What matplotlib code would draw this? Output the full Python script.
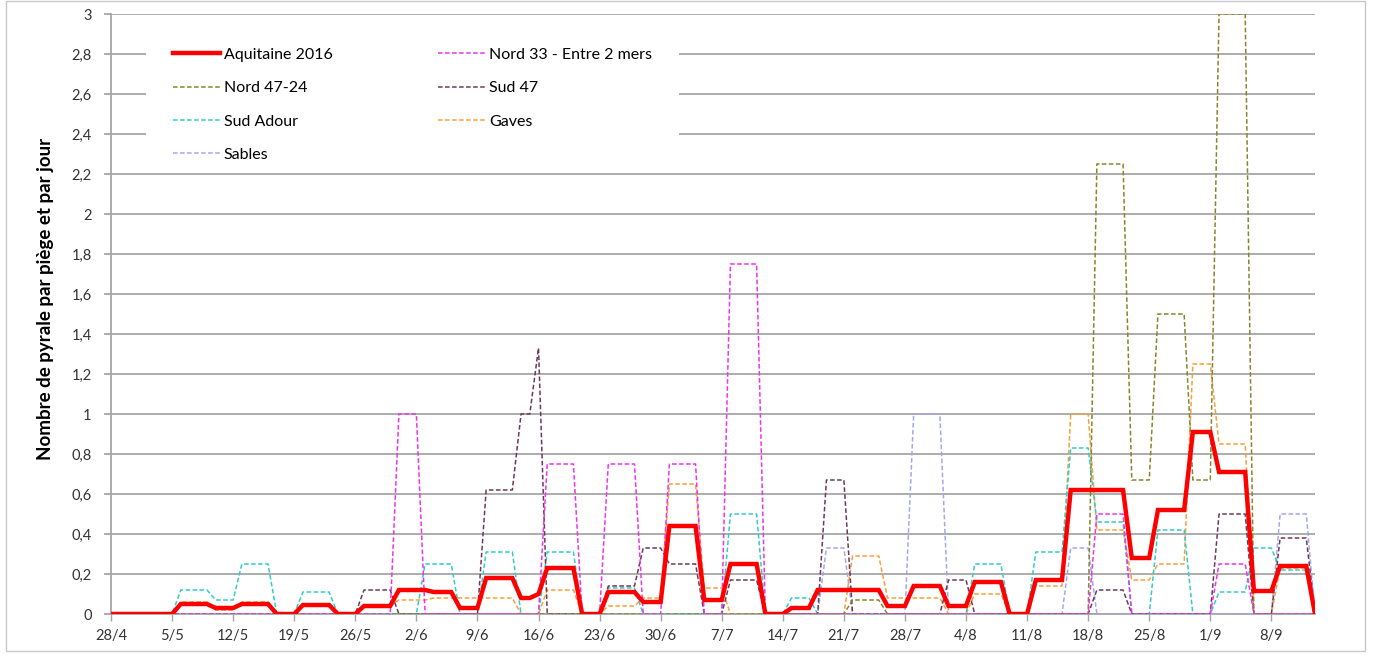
import numpy as np
import matplotlib
matplotlib.use("Agg")
import matplotlib.pyplot as plt
from matplotlib.patches import Rectangle

plt.rcParams['font.family'] = ['Lato', 'DejaVu Sans']

# ---------------- data (daily values, run-length encoded: value, number of days) ----------------
tick_labels = ['28/4', '5/5', '12/5', '19/5', '26/5', '2/6', '9/6', '16/6', '23/6', '30/6',
               '7/7', '14/7', '21/7', '28/7', '4/8', '11/8', '18/8', '25/8', '1/9', '8/9']

aquitaine_vals = [0, 0.05, 0.03, 0.05, 0, 0.045, 0, 0.04, 0.12, 0.11, 0.03, 0.18, 0.08, 0.10, 0.23, 0,
                  0.11, 0.06, 0.44, 0.07, 0.25, 0, 0.03, 0.12, 0.04, 0.14, 0.04, 0.16, 0, 0.17,
                  0.62, 0.28, 0.52, 0.91, 0.71, 0.115, 0.24, 0]
aquitaine_runs = [8, 4, 3, 4, 3, 4, 3, 4, 4, 3, 3, 4, 2, 1, 4, 3,
                  4, 3, 4, 3, 4, 3, 3, 8, 3, 4, 3, 4, 3, 4,
                  7, 3, 4, 3, 4, 3, 4, 1]

nord33_vals = [0, 1.0, 0, 0.75, 0, 0.75, 0, 0.75, 0, 1.75, 0, 0.5, 0, 0.25, 0]
nord33_runs = [33, 3, 14, 4, 3, 4, 3, 4, 3, 4, 38, 4, 10, 4, 8]

nord4724_vals = [0, 0.07, 0, 2.25, 0.67, 1.5, 0.67, 3.0, 0]
nord4724_runs = [85, 4, 24, 4, 3, 4, 3, 4, 8]

sud47_vals = [0, 0.12, 0, 0.62, 1.0, 1.33, 0, 0.14, 0.33, 0.25, 0, 0.17, 0, 0.67, 0, 0.17, 0,
              0.12, 0, 0.5, 0, 0.38, 0]
sud47_runs = [29, 4, 10, 4, 2, 1, 7, 4, 3, 4, 3, 4, 7, 3, 11, 3, 14,
              4, 10, 4, 3, 4, 1]

sudadour_vals = [0, 0.12, 0.07, 0.25, 0, 0.11, 0, 0.25, 0, 0.31, 0, 0.31, 0, 0.13, 0, 0.5, 0, 0.08, 0,
                 0.25, 0, 0.31, 0.83, 0.46, 0, 0.42, 0, 0.11, 0.33, 0.22, 0]
sudadour_runs = [8, 4, 3, 4, 3, 4, 10, 4, 3, 4, 3, 4, 3, 4, 10, 4, 3, 3, 18,
                 4, 3, 4, 3, 4, 3, 4, 3, 4, 3, 4, 1]

gaves_vals = [0, 0.06, 0.02, 0.06, 0, 0.05, 0, 0.04, 0.07, 0.08, 0, 0.12, 0, 0.04, 0.08, 0.65, 0.13,
              0, 0.29, 0.08, 0.08, 0, 0.10, 0, 0.14, 1.0, 0.42, 0.17, 0.25, 1.25, 0.85, 0, 0.23, 0]
gaves_runs = [8, 4, 3, 4, 3, 4, 3, 4, 4, 10, 3, 4, 3, 4, 3, 4, 3,
              14, 4, 3, 4, 3, 4, 3, 4, 3, 4, 3, 4, 3, 4, 3, 4, 1]

sables_vals = [0, 0.33, 0, 1.0, 0, 0.33, 0, 0.5, 0]
sables_runs = [82, 3, 7, 4, 14, 3, 21, 4, 1]

series_names = ['Aquitaine 2016', 'Nord 33 - Entre 2 mers', 'Nord 47-24', 'Sud 47',
                'Sud Adour', 'Gaves', 'Sables']


def expand(vals, runs):
    return np.repeat(np.asarray(vals, dtype=float), runs)


data = {
    'Aquitaine 2016': expand(aquitaine_vals, aquitaine_runs),
    'Nord 33 - Entre 2 mers': expand(nord33_vals, nord33_runs),
    'Nord 47-24': expand(nord4724_vals, nord4724_runs),
    'Sud 47': expand(sud47_vals, sud47_runs),
    'Sud Adour': expand(sudadour_vals, sudadour_runs),
    'Gaves': expand(gaves_vals, gaves_runs),
    'Sables': expand(sables_vals, sables_runs),
}
n_days = len(data['Aquitaine 2016'])

# ---------------- styling ----------------
colors = {
    'Aquitaine 2016': '#FF0000',
    'Nord 33 - Entre 2 mers': '#EE33EE',
    'Nord 47-24': '#86862E',
    'Sud 47': '#6B3A5A',
    'Sud Adour': '#33CCCC',
    'Gaves': '#F7A03C',
    'Sables': '#A6A6F0',
}

W, H = 1373, 664
fig = plt.figure(figsize=(W / 100, H / 100), dpi=100)
ax = fig.add_axes([111 / W, 1 - 614 / H, (1315 - 111) / W, 600 / H])

x = np.arange(n_days)
handles = {}
draw_order = ['Sables', 'Gaves', 'Sud Adour', 'Sud 47', 'Nord 47-24', 'Nord 33 - Entre 2 mers']
for i, name in enumerate(draw_order):
    (h,) = ax.plot(x, data[name], color=colors[name], lw=1.1, ls=(0, (3, 1.6)),
                   zorder=3 + i, label=name)
    handles[name] = h
(h,) = ax.plot(x, data['Aquitaine 2016'], color=colors['Aquitaine 2016'], lw=3.2,
               solid_joinstyle='miter', zorder=20, label='Aquitaine 2016')
handles['Aquitaine 2016'] = h

ax.set_xlim(0, n_days - 1)
ax.set_ylim(0, 3)
yt = np.arange(0, 3.01, 0.2)
ax.set_yticks(yt)
ax.set_yticklabels([('%g' % round(v, 1)).replace('.', ',') for v in yt], fontsize=10.5,
                   color='#333333')
ax.set_xticks(np.arange(0, n_days, 7))
ax.set_xticklabels(tick_labels, fontsize=10.5, color='#333333')

ax.grid(axis='y', color='#A6A6A6', lw=1.3, zorder=0)
ax.set_axisbelow(True)
for s in ['top', 'right']:
    ax.spines[s].set_visible(False)
for s in ['left', 'bottom']:
    ax.spines[s].set_color('#A6A6A6')
    ax.spines[s].set_linewidth(1.3)
ax.tick_params(axis='y', length=5, width=1.3, color='#A6A6A6', pad=9)
ax.tick_params(axis='x', length=5, width=1, color='#A6A6A6', pad=6)

ax.set_ylabel('Nombre de pyrale par piège et par jour', fontsize=13.5, fontweight='bold')
ax.yaxis.set_label_coords(-0.047, 0.525)

# white background of the legend area (hides gridlines behind the legend)
ax.add_patch(Rectangle(((146 - 111) / 1204, (614 - 168) / 600), (679 - 146) / 1204, (168 - 32) / 600,
                       transform=ax.transAxes, facecolor='white', edgecolor='none', zorder=1))

order = ['Aquitaine 2016', 'Nord 47-24', 'Sud Adour', 'Sables',
         'Nord 33 - Entre 2 mers', 'Sud 47', 'Gaves']
leg = ax.legend([handles[n] for n in order], order, ncol=2, loc='upper left',
                bbox_to_anchor=((168 - 111) / 1204, (614 - 43) / 600), frameon=False, fontsize=11.5,
                handlelength=2.95, handletextpad=0.25, columnspacing=6.6, labelspacing=1.2,
                borderpad=0.3, borderaxespad=0)
leg.set_zorder(30)

fig.patches.append(Rectangle((6 / W, 1 - 651 / H), 1359 / W, 650 / H,
                             transform=fig.transFigure, fill=False, edgecolor='#C8C8C8', lw=1))

fig.savefig('out.png', dpi=100, facecolor='white')
